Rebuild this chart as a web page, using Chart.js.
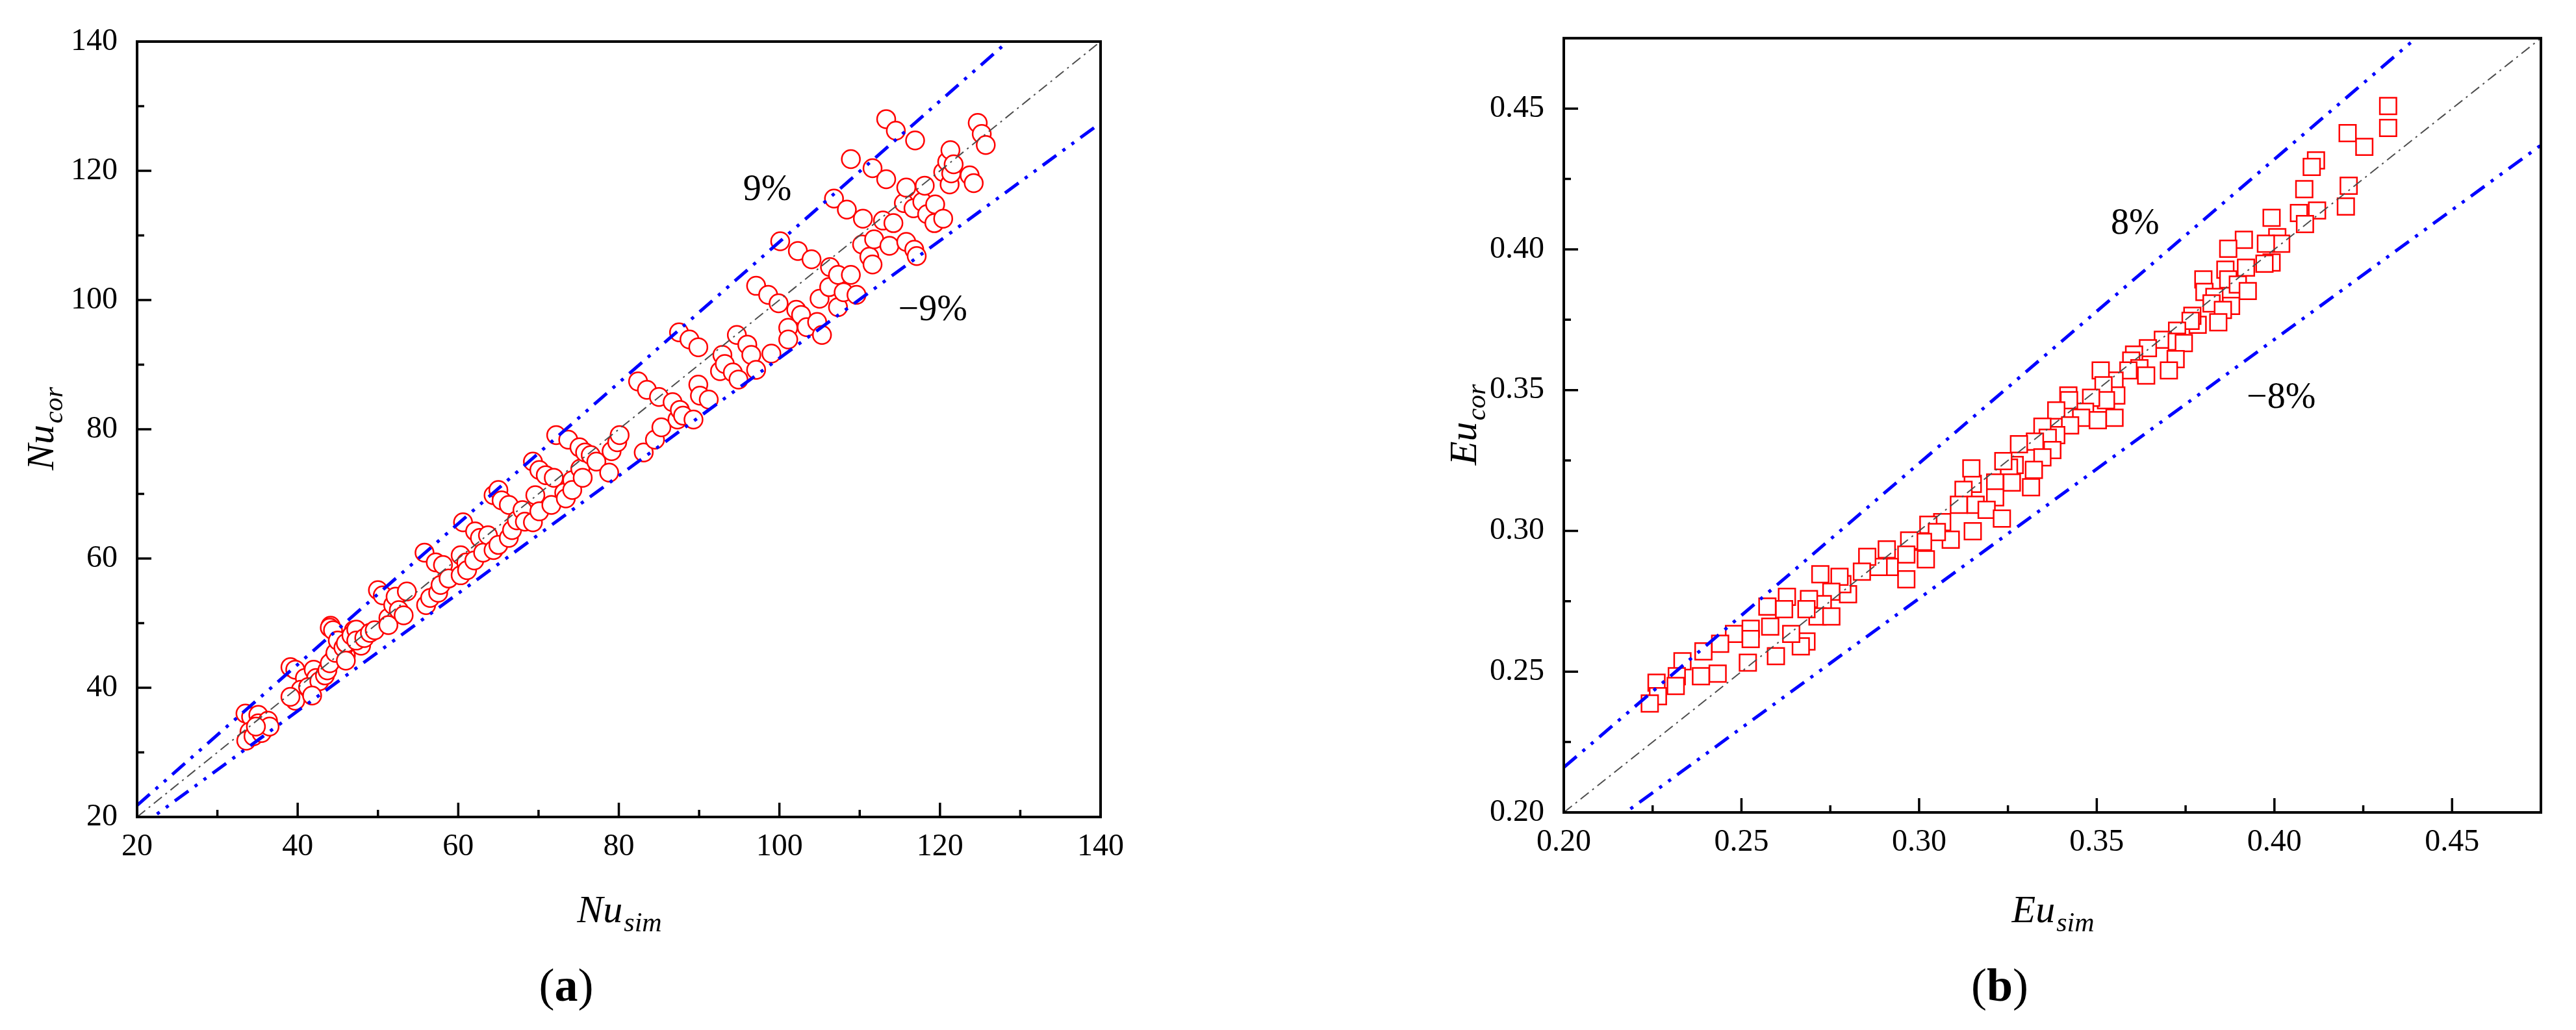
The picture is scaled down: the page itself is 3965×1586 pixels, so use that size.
<!DOCTYPE html>
<html>
<head>
<meta charset="utf-8">
<script src="https://cdn.jsdelivr.net/npm/chart.js"></script>
<style>
    html, body { margin: 0; padding: 0; background: #ffffff; }
    #wrap { position: relative; width: 3965px; height: 1586px; }
    #chartA { position: absolute; left: 0; top: 0; }
    #chartB { position: absolute; left: 1980px; top: 0; }
</style>
</head>
<body>
<div id="wrap">
    <canvas id="chartA" width="1980" height="1586"></canvas>
    <canvas id="chartB" width="1985" height="1586"></canvas>
</div>
<script>
// (a) Nusselt number: simulated vs correlated
const nuSim = [
    33.5, 34.2, 35.1, 35.1, 36.3, 35.8, 34.0, 33.6, 34.5, 35.5, 36.5, 34.8,
    39.1, 39.7, 40.9, 42.0, 42.3, 40.4, 39.7, 39.1, 41.3, 42.7, 41.8,
    44.1, 45.6, 47.0, 47.9, 46.0, 44.5,
    43.4, 43.7, 44.0, 44.0, 44.4, 44.7, 45.0, 45.7, 46.0, 46.0, 46.7, 47.3, 47.3, 48.3, 49.0, 49.6,
    50.0, 50.6, 51.3, 51.3, 51.9, 52.2, 52.6, 53.2, 53.6, 55.8, 56.0, 56.5, 57.2, 57.5, 57.8, 58.1, 58.8,
    60.3, 60.3, 60.6, 61.0, 61.1, 62.0, 62.1, 62.7, 63.1, 63.7, 64.4, 64.4, 65.0, 65.0, 65.4, 66.3, 66.3, 66.7,
    67.3, 68.0, 68.3, 69.3, 69.3, 69.6, 70.1, 70.1, 70.9, 71.6, 71.9, 72.2, 73.2, 73.4, 73.7, 74.2, 74.2,
    75.1, 75.2, 75.5, 75.8, 76.5, 77.2, 78.8, 79.1, 79.8, 80.1,
    82.4, 83.1, 83.5, 84.5, 85.0, 85.3, 86.7, 87.3, 87.5, 87.6, 88.0, 88.8, 89.3, 89.9, 89.9, 90.1, 91.2,
    92.6, 92.9, 93.2, 94.2, 94.7, 94.9, 96.0, 96.5, 97.1, 97.1, 98.6, 99.0, 99.9,
    100.1, 101.1, 101.1, 102.1, 102.3, 102.7, 103.4, 104.0, 104.7, 105.0, 105.3, 106.2, 106.3, 106.8,
    107.3, 107.3, 108.0, 108.4, 108.9, 108.9, 109.6, 110.3, 110.4, 111.2, 111.6, 111.6, 111.8,
    112.9, 113.3, 113.3, 113.7, 114.2, 114.5, 115.5, 115.8, 115.8, 116.7, 116.8, 116.9, 117.1, 117.8,
    118.1, 118.4, 119.3, 119.4, 120.4, 120.4, 120.9, 121.2, 121.3, 121.4, 121.7, 123.7, 124.2, 124.7, 125.2, 125.7
];
const nuCor = [
    36.0, 35.5, 35.8, 34.5, 34.9, 33.5, 33.2, 31.8, 32.5, 33.0, 34.0, 34.0,
    43.2, 42.8, 41.5, 42.8, 41.5, 39.7, 38.0, 38.6, 40.1, 41.0, 38.8,
    49.6, 47.1, 48.9, 46.5, 45.0, 44.5,
    41.9, 42.7, 49.3, 43.8, 48.9, 45.4, 47.3, 46.2, 46.9, 44.2, 48.1, 49.0, 47.3, 47.7, 48.5, 48.9,
    55.1, 54.3, 50.8, 49.7, 52.8, 54.1, 52.0, 51.2, 54.9, 60.9, 52.8, 53.9, 59.4, 54.7, 55.9, 59.0, 56.9,
    60.5, 57.4, 65.6, 59.4, 58.2, 59.7, 64.2, 63.2, 60.9, 63.6, 69.8, 61.3, 70.6, 62.1, 69.0, 68.3, 63.2, 64.4,
    65.9, 67.5, 65.7, 75.0, 65.6, 69.8, 73.7, 67.3, 72.9, 68.3, 72.5, 79.1, 70.2, 69.3, 78.4, 72.1, 70.6,
    77.2, 73.9, 72.5, 76.4, 76.0, 75.0, 73.3, 76.6, 78.0, 79.1,
    87.4, 76.4, 86.1, 78.4, 85.0, 80.3, 84.2, 81.5, 95.0, 83.0, 82.1, 93.9, 81.5, 92.7, 86.9, 85.2, 84.6,
    89.0, 91.5, 90.1, 88.8, 94.6, 87.7, 93.1, 91.5, 102.2, 89.2, 100.8, 91.7, 99.5,
    109.1, 95.7, 93.9, 98.5, 107.6, 97.7, 95.8, 106.3, 96.6, 100.2, 94.6, 102.0, 105.1, 115.7,
    103.9, 98.9, 101.2, 114.0, 121.8, 103.9, 100.8, 108.6, 112.6, 106.7, 120.4, 105.5, 109.4,
    112.3, 128.0, 118.7, 108.4, 111.9, 126.2, 115.0, 117.4, 109.0, 114.2, 107.8, 124.7, 106.8, 115.2,
    117.7, 113.3, 111.9, 114.8, 119.8, 112.6, 121.4, 117.9, 123.2, 119.6, 121.0, 119.3, 118.1, 127.4, 125.7, 124.0
];
const nuTicks = [20, 40, 60, 80, 100, 120, 140];
const nuMinorTicks = [30, 50, 70, 90, 110, 130];
const nuRatios = [1, 1.09, 0.91];
const nuBandLabels = ['9%', '\u22129%'];
const nuBandLabelAt = [[98.5, 117.0], [119.1, 98.4]];

// (b) Euler number: simulated vs correlated
const euSim = [
    0.4320, 0.4320, 0.4206, 0.4253, 0.4117, 0.4105, 0.4084, 0.4209, 0.4201, 0.4120, 0.4069, 0.4086,
    0.3992, 0.4008, 0.4019, 0.3976, 0.3914, 0.3870, 0.3992, 0.3972, 0.3920, 0.3862, 0.3800, 0.3870,
    0.3897, 0.3925, 0.3803, 0.3831, 0.3823, 0.3878, 0.3855, 0.3842, 0.3784, 0.3769, 0.3764, 0.3726,
    0.3686, 0.3725, 0.3745, 0.3722, 0.3703, 0.3644, 0.3605, 0.3597, 0.3620, 0.3639, 0.3589, 0.3550,
    0.3555, 0.3511, 0.3519, 0.3526, 0.3484, 0.3467, 0.3456, 0.3550, 0.3503, 0.3420, 0.3422, 0.3386,
    0.3425, 0.3386, 0.3347, 0.3362, 0.3326, 0.3375, 0.3347, 0.3281, 0.3269, 0.3323, 0.3253, 0.3237,
    0.3214, 0.3261, 0.3315, 0.3214, 0.3151, 0.3147, 0.3125, 0.3112, 0.3159, 0.3190, 0.3233, 0.3151,
    0.3089, 0.3065, 0.3026, 0.3050, 0.3011, 0.2972, 0.2964, 0.3019, 0.2964, 0.2909, 0.2917, 0.2886,
    0.2854, 0.2839, 0.2800, 0.2784, 0.2776, 0.2753, 0.2722, 0.2729, 0.2690, 0.2714, 0.2753, 0.2683,
    0.2683, 0.2667, 0.2640, 0.2628, 0.2620, 0.2573, 0.2581, 0.2597, 0.2526, 0.2526, 0.2518, 0.2479,
    0.2440, 0.2433, 0.2393, 0.2386, 0.2334, 0.2318, 0.2315, 0.2261, 0.2265, 0.2242
];
const euCor = [
    0.4509, 0.4431, 0.4413, 0.4364, 0.4316, 0.4293, 0.4214, 0.4226, 0.4152, 0.4138, 0.4129, 0.4090,
    0.4112, 0.4043, 0.4020, 0.4020, 0.4034, 0.4002, 0.3953, 0.3949, 0.3935, 0.3928, 0.3893, 0.3893,
    0.3875, 0.3852, 0.3849, 0.3831, 0.3808, 0.3799, 0.3785, 0.3741, 0.3732, 0.3764, 0.3746, 0.3711,
    0.3679, 0.3672, 0.3667, 0.3610, 0.3570, 0.3649, 0.3626, 0.3605, 0.3578, 0.3552, 0.3570, 0.3534,
    0.3481, 0.3570, 0.3517, 0.3464, 0.3473, 0.3423, 0.3402, 0.3402, 0.3393, 0.3481, 0.3464, 0.3428,
    0.3375, 0.3340, 0.3370, 0.3331, 0.3317, 0.3287, 0.3261, 0.3308, 0.3234, 0.3217, 0.3225, 0.3248,
    0.3172, 0.3172, 0.3155, 0.3119, 0.3167, 0.3222, 0.3146, 0.3093, 0.3093, 0.3075, 0.3044, 0.2999,
    0.2969, 0.3031, 0.3022, 0.2996, 0.2961, 0.2966, 0.2916, 0.2899, 0.2828, 0.2934, 0.2872, 0.2872,
    0.2908, 0.2855, 0.2775, 0.2811, 0.2837, 0.2784, 0.2846, 0.2740, 0.2758, 0.2696, 0.2696, 0.2722,
    0.2607, 0.2590, 0.2634, 0.2766, 0.2722, 0.2731, 0.2660, 0.2555, 0.2652, 0.2616, 0.2532, 0.2634,
    0.2599, 0.2493, 0.2572, 0.2484, 0.2537, 0.2484, 0.2449, 0.2461, 0.2413, 0.2387
];
const euTicks = [0.20, 0.25, 0.30, 0.35, 0.40, 0.45];
const euMinorTicks = [0.225, 0.275, 0.325, 0.375, 0.425];
const euRatios = [1, 1.08, 0.92];
const euBandLabels = ['8%', '\u22128%'];
const euBandLabelAt = [[0.3608, 0.4090], [0.4019, 0.3471]];

const serif = "'Liberation Serif', 'Times New Roman', serif";

// closed frame with inward major / minor ticks on the bottom and left axes
const frameTicks = {
    id: 'frameTicks',
    afterDatasetsDraw(chart, args, opts) {
        const { ctx, chartArea: a, scales: { x, y } } = chart;
        ctx.save();
        ctx.strokeStyle = '#000';
        ctx.lineWidth = 3.5;
        ctx.beginPath();
        opts.xMajor.forEach(v => { const p = x.getPixelForValue(v); ctx.moveTo(p, a.bottom); ctx.lineTo(p, a.bottom - 22); });
        opts.xMinor.forEach(v => { const p = x.getPixelForValue(v); ctx.moveTo(p, a.bottom); ctx.lineTo(p, a.bottom - 11); });
        opts.yMajor.forEach(v => { const p = y.getPixelForValue(v); ctx.moveTo(a.left, p); ctx.lineTo(a.left + 22, p); });
        opts.yMinor.forEach(v => { const p = y.getPixelForValue(v); ctx.moveTo(a.left, p); ctx.lineTo(a.left + 11, p); });
        ctx.stroke();
        ctx.lineWidth = 4;
        ctx.strokeRect(a.left, a.top, a.right - a.left, a.bottom - a.top);
        ctx.restore();
    }
};

function drawSubText(ctx, main, sub, x, y, size) {
    ctx.font = 'italic ' + size + 'px ' + serif;
    const w1 = ctx.measureText(main).width;
    ctx.font = 'italic ' + Math.round(size * 0.7) + 'px ' + serif;
    const w2 = ctx.measureText(sub).width;
    let x0 = x - (w1 + w2) / 2;
    ctx.font = 'italic ' + size + 'px ' + serif;
    ctx.fillText(main, x0, y);
    ctx.font = 'italic ' + Math.round(size * 0.7) + 'px ' + serif;
    ctx.fillText(sub, x0 + w1 + 2, y + 14);
}

// axis titles, band labels and the panel letter
const texts = {
    id: 'texts',
    afterDraw(chart, args, opts) {
        const { ctx, chartArea: a, scales: { x, y } } = chart;
        const cx = (a.left + a.right) / 2;
        const cy = (a.top + a.bottom) / 2;
        ctx.save();
        ctx.fillStyle = '#000';
        ctx.textAlign = 'left';
        ctx.textBaseline = 'alphabetic';
        drawSubText(ctx, opts.xTitle[0], opts.xTitle[1], cx, a.bottom + opts.xTitleGap, 60);
        ctx.save();
        ctx.translate(opts.yTitleX, cy);
        ctx.rotate(-Math.PI / 2);
        drawSubText(ctx, opts.yTitle[0], opts.yTitle[1], 0, 20, 60);
        ctx.restore();

        ctx.font = '56px ' + serif;
        ctx.textAlign = 'center';
        ctx.textBaseline = 'middle';
        opts.bandLabels.forEach((t, i) => {
            ctx.fillText(t, x.getPixelForValue(opts.bandAt[i][0]), y.getPixelForValue(opts.bandAt[i][1]));
        });

        // "(a)" with a bold letter
        ctx.textAlign = 'left';
        ctx.textBaseline = 'alphabetic';
        ctx.font = '72px ' + serif;
        const wp = ctx.measureText('(').width;
        ctx.font = 'bold 72px ' + serif;
        const wl = ctx.measureText(opts.letter).width;
        let lx = cx + opts.letterShift - (2 * wp + wl) / 2;
        const ly = a.bottom + opts.letterGap;
        ctx.font = '72px ' + serif;
        ctx.fillText('(', lx, ly);
        ctx.font = 'bold 72px ' + serif;
        ctx.fillText(opts.letter, lx + wp, ly);
        ctx.font = '72px ' + serif;
        ctx.fillText(')', lx + wp + wl, ly);
        ctx.restore();
    }
};

function buildChart(canvasId, cfg) {
    const points = cfg.sim.map((v, i) => ({ x: v, y: cfg.cor[i] }));
    const refLines = cfg.ratios.map((r, i) => ({
        type: 'line',
        data: [{ x: cfg.min, y: cfg.min * r }, { x: cfg.max, y: cfg.max * r }],
        borderColor: i === 0 ? '#4d4d4d' : '#0000ff',
        borderWidth: i === 0 ? 2 : 5,
        borderDash: i === 0 ? [16, 7, 3, 7] : [26, 12, 5, 12, 5, 12],
        pointRadius: 0,
        fill: false,
        clip: 0,
        order: 1
    }));
    const tickFont = { family: serif, size: 48 };
    return new Chart(document.getElementById(canvasId), {
        type: 'scatter',
        data: {
            datasets: [{
                data: points,
                pointStyle: cfg.marker,
                pointRadius: cfg.markerRadius,
                pointBorderWidth: 2.5,
                borderColor: '#ff0000',
                backgroundColor: '#ffffff',
                order: 2
            }].concat(refLines)
        },
        options: {
            responsive: false,
            animation: false,
            events: [],
            layout: { padding: cfg.padding },
            plugins: {
                legend: { display: false },
                tooltip: { enabled: false },
                frameTicks: { xMajor: cfg.ticks, xMinor: cfg.minor, yMajor: cfg.ticks, yMinor: cfg.minor },
                texts: cfg.texts
            },
            scales: {
                x: {
                    type: 'linear',
                    min: cfg.min,
                    max: cfg.max,
                    afterBuildTicks: s => { s.ticks = cfg.ticks.map(v => ({ value: v })); },
                    afterFit: s => { s.height = cfg.xHeight; },
                    ticks: { font: tickFont, color: '#000', padding: 18, maxRotation: 0, autoSkip: false, callback: cfg.fmt },
                    grid: { display: false, drawTicks: false, tickLength: 0 },
                    border: { display: false }
                },
                y: {
                    type: 'linear',
                    min: cfg.min,
                    max: cfg.max,
                    afterBuildTicks: s => { s.ticks = cfg.ticks.map(v => ({ value: v })); },
                    afterFit: s => { s.width = cfg.yWidth; },
                    ticks: { font: tickFont, color: '#000', padding: 30, autoSkip: false, callback: cfg.fmt },
                    grid: { display: false, drawTicks: false, tickLength: 0 },
                    border: { display: false }
                }
            }
        },
        plugins: [frameTicks, texts]
    });
}

buildChart('chartA', {
    sim: nuSim, cor: nuCor, min: 20, max: 140,
    ticks: nuTicks, minor: nuMinorTicks, ratios: nuRatios,
    marker: 'circle', markerRadius: 14,
    fmt: v => String(v),
    padding: { left: 0, top: 64, right: 286, bottom: 0 },
    yWidth: 211, xHeight: 328,
    texts: {
        xTitle: ['Nu', 'sim'], yTitle: ['Nu', 'cor'],
        xTitleGap: 162, yTitleX: 62,
        bandLabels: nuBandLabels, bandAt: nuBandLabelAt,
        letter: 'a', letterShift: -81, letterGap: 283
    }
});

buildChart('chartB', {
    sim: euSim, cor: euCor, min: 0.20, max: 0.475,
    ticks: euTicks, minor: euMinorTicks, ratios: euRatios,
    marker: 'rect', markerRadius: 18,
    fmt: v => Number(v).toFixed(2),
    padding: { left: 0, top: 39, right: 54, bottom: 0 },
    yWidth: 427, xHeight: 335,
    texts: {
        xTitle: ['Eu', 'sim'], yTitle: ['Eu', 'cor'],
        xTitleGap: 169, yTitleX: 272,
        bandLabels: euBandLabels, bandAt: euBandLabelAt,
        letter: 'b', letterShift: -81, letterGap: 290
    }
});
</script>
</body>
</html>
